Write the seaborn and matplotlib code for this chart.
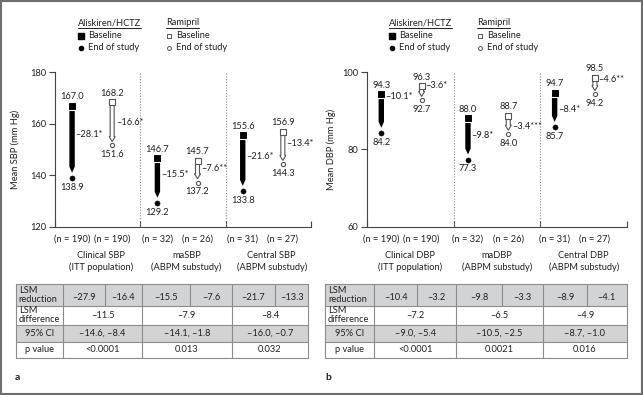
import numpy as np
import pandas as pd
import matplotlib
matplotlib.use("Agg")
import matplotlib.pyplot as plt
import matplotlib.transforms as mtrans
from matplotlib.patches import Rectangle, Polygon
import seaborn as sns

sns.set_theme(style="ticks")
plt.rcParams['font.family'] = ['Lato', 'DejaVu Sans']

# ---------------- data ----------------
sbp_groups = ["Clinical SBP", "maSBP", "Central SBP"]
dbp_groups = ["Clinical DBP", "maDBP", "Central DBP"]
subtitles = ["(ITT population)", "(ABPM substudy)", "(ABPM substudy)"]
n_ali = [190, 32, 31]
n_ram = [190, 26, 27]

sbp_ali_base = [167.0, 146.7, 155.6]
sbp_ali_end = [138.9, 129.2, 133.8]
sbp_ram_base = [168.2, 145.7, 156.9]
sbp_ram_end = [151.6, 137.2, 144.3]
sbp_ali_chg = ["\u201328.1*", "\u201315.5*", "\u201321.6*"]
sbp_ram_chg = ["\u201316.6*", "\u20137.6**", "\u201313.4*"]

dbp_ali_base = [94.3, 88.0, 94.7]
dbp_ali_end = [84.2, 77.3, 85.7]
dbp_ram_base = [96.3, 88.7, 98.5]
dbp_ram_end = [92.7, 84.0, 94.2]
dbp_ali_chg = ["\u201310.1*", "\u20139.8*", "\u20138.4*"]
dbp_ram_chg = ["\u20133.6*", "\u20133.4***", "\u20134.6**"]

sbp_yticks = [120, 140, 160, 180]
dbp_yticks = [60, 80, 100]

row_labels = ["LSM\nreduction", "LSM\ndifference", "95% CI", "p value"]
sbp_red_ali = ["\u201327.9", "\u201315.5", "\u201321.7"]
sbp_red_ram = ["\u201316.4", "\u20137.6", "\u201313.3"]
sbp_diff = ["\u201311.5", "\u20137.9", "\u20138.4"]
sbp_ci = ["\u201314.6, \u20138.4", "\u201314.1, \u20131.8", "\u201316.0, \u20130.7"]
sbp_p = ["<0.0001", "0.013", "0.032"]
dbp_red_ali = ["\u201310.4", "\u20139.8", "\u20138.9"]
dbp_red_ram = ["\u20133.2", "\u20133.3", "\u20134.1"]
dbp_diff = ["\u20137.2", "\u20136.5", "\u20134.9"]
dbp_ci = ["\u20139.0, \u20135.4", "\u201310.5, \u20132.5", "\u20138.7, \u20131.0"]
dbp_p = ["<0.0001", "0.0021", "0.016"]

# ---------------- style / layout ----------------
W, H = 643, 395
TXT = "#231f20"
GRAYLINE = "#555555"
FS = 6.7
# vertical pixel shift of the change labels above arrow midpoints (layout only)
sbp_shift_ali, sbp_shift_ram = [7, 6.5, 7], [1, 3.5, 4]
dbp_shift_ali, dbp_shift_ram = [17, 4, 0], [8, -2, 7]

fig = plt.figure(figsize=(W / 100, H / 100), dpi=100)
fig.patch.set_facecolor("white")

ov = fig.add_axes([0, 0, 1, 1], zorder=0)
ov.set_xlim(0, W)
ov.set_ylim(H, 0)
ov.axis("off")
ov.patch.set_alpha(0)


def px_text(x, y, s, **kw):
    kw.setdefault("fontsize", FS)
    kw.setdefault("color", TXT)
    return ov.text(x, y, s, **kw)


def panel(rect, ylim, yticks, ylabel, ylab_x, groups, ab, ae, rb, re_, ac, rc, sa, sr, offs, goff):
    l, t, r, b = rect
    ax = fig.add_axes([l / W, 1 - b / H, (r - l) / W, (b - t) / H], zorder=2)
    ax.patch.set_alpha(0)
    ax.set_xlim(0, 6)
    ax.set_ylim(*ylim)
    kx = (r - l) / 6.0
    ky = (b - t) / (ylim[1] - ylim[0])
    xa = [2 * i + offs[0] for i in range(3)]
    xr = [2 * i + offs[1] for i in range(3)]

    for xv in (2, 4):
        ax.axvline(xv, ls=(0, (1, 1.5)), color="#8a8a8a", lw=0.8, zorder=1)

    # Aliskiren filled arrows
    for x, bv, ev in zip(xa, ab, ae):
        hw = 2.7 / kx
        tip = ev + 5.5 / ky
        hs = tip + 6 / ky
        ax.add_patch(Polygon([(x - hw, bv), (x + hw, bv), (x + hw, hs), (x, tip), (x - hw, hs)],
                             closed=True, facecolor="black", edgecolor="none", zorder=3))
    # Ramipril outlined arrows
    for x, bv, ev in zip(xr, rb, re_):
        hw = 2.0 / kx
        hh = 3.0 / kx
        top = bv - 3.0 / ky
        tip = ev + 3.8 / ky
        hs = tip + 5.0 / ky
        ax.add_patch(Polygon([(x - hw, top), (x + hw, top), (x + hw, hs), (x + hh, hs), (x, tip),
                              (x - hh, hs), (x - hw, hs)],
                             closed=True, facecolor="white", edgecolor=GRAYLINE, lw=0.8, zorder=3))

    df_a = pd.DataFrame({"x": xa, "base": ab, "end": ae})
    df_r = pd.DataFrame({"x": xr, "base": rb, "end": re_})
    sns.scatterplot(data=df_a, x="x", y="base", marker="s", s=28, color="black",
                    edgecolor="white", linewidth=0.8, ax=ax, zorder=4, legend=False)
    sns.scatterplot(data=df_a, x="x", y="end", marker="o", s=14, color="black",
                    edgecolor="black", linewidth=0.3, ax=ax, zorder=4, legend=False)
    sns.scatterplot(data=df_r, x="x", y="base", marker="s", s=17, color="white",
                    edgecolor=GRAYLINE, linewidth=0.8, ax=ax, zorder=4, legend=False)
    sns.scatterplot(data=df_r, x="x", y="end", marker="o", s=9, color="white",
                    edgecolor=GRAYLINE, linewidth=0.8, ax=ax, zorder=4, legend=False)

    for xs, bs, es, cs, ss in ((xa, ab, ae, ac, sa), (xr, rb, re_, rc, sr)):
        for x, bv, ev, c, sh in zip(xs, bs, es, cs, ss):
            ax.annotate(f"{bv:.1f}", (x, bv), xytext=(0, 9), textcoords="offset pixels",
                        ha="center", va="center", fontsize=FS, color=TXT, annotation_clip=False)
            ax.annotate(f"{ev:.1f}", (x, ev), xytext=(0, -9), textcoords="offset pixels",
                        ha="center", va="center", fontsize=FS, color=TXT, annotation_clip=False)
            ax.annotate(c, (x, (bv + ev) / 2), xytext=(3.5, sh), textcoords="offset pixels",
                        ha="left", va="center", fontsize=FS, color=TXT, annotation_clip=False)

    ax.set_xlabel("")
    ax.set_ylabel(ylabel, fontsize=FS, color=TXT)
    ax.yaxis.set_label_coords(ylab_x, 0.5)
    ax.set_yticks(yticks)
    ax.set_xticks([0, 2, 4, 6])
    ax.set_xticklabels([])
    ax.tick_params(axis="y", direction="out", length=4, width=0.8, labelsize=FS,
                   colors="#444444", labelcolor=TXT, pad=2)
    ax.tick_params(axis="x", direction="in", length=4, width=0.8, colors="#444444")
    for s in ("top", "right"):
        ax.spines[s].set_visible(False)
    for s in ("left", "bottom"):
        ax.spines[s].set_color("#444444")
        ax.spines[s].set_linewidth(0.8)

    trans = mtrans.blended_transform_factory(ax.transData, ov.transData)
    for i in range(3):
        ax.text(xa[i], 239, f"(n = {n_ali[i]})", transform=trans, ha="center", va="center",
                fontsize=FS, color=TXT)
        ax.text(xr[i], 239, f"(n = {n_ram[i]})", transform=trans, ha="center", va="center",
                fontsize=FS, color=TXT)
        gx = 2 * i + goff
        ax.text(gx, 255, groups[i], transform=trans, ha="center", va="center",
                fontsize=FS, color=TXT)
        ax.text(gx, 267, subtitles[i], transform=trans, ha="center", va="center",
                fontsize=FS, color=TXT)
    return ax


axa = panel((55, 72, 311, 227), (120, 180), sbp_yticks, "Mean SBP (mm Hg)", -0.135, sbp_groups,
            sbp_ali_base, sbp_ali_end, sbp_ram_base, sbp_ram_end, sbp_ali_chg, sbp_ram_chg,
            sbp_shift_ali, sbp_shift_ram, (0.4, 1.34), 1.08)
axb = panel((367, 72, 627, 227), (60, 100), dbp_yticks, "Mean DBP (mm Hg)", -0.12, dbp_groups,
            dbp_ali_base, dbp_ali_end, dbp_ram_base, dbp_ram_end, dbp_ali_chg, dbp_ram_chg,
            dbp_shift_ali, dbp_shift_ram, (0.33, 1.26), 1.0)


# ---------------- legends ----------------
def legend(x_ali, x_ram):
    ta = px_text(x_ali, 22.5, "Aliskiren/HCTZ", ha="left", va="center")
    tr = px_text(x_ram, 22.5, "Ramipril", ha="left", va="center")
    ov.scatter([x_ali + 2.5], [36], marker="s", s=14, color="black", zorder=3)
    ov.scatter([x_ali + 2.5], [48], marker="o", s=9, color="black", zorder=3)
    ov.scatter([x_ram + 2.5], [36], marker="s", s=12, facecolor="white", edgecolor=GRAYLINE,
               lw=0.7, zorder=3)
    ov.scatter([x_ram + 2.5], [48], marker="o", s=8, facecolor="white", edgecolor=GRAYLINE,
               lw=0.7, zorder=3)
    px_text(x_ali + 10, 36, "Baseline", ha="left", va="center")
    px_text(x_ali + 10, 48, "End of study", ha="left", va="center")
    px_text(x_ram + 10, 36, "Baseline", ha="left", va="center")
    px_text(x_ram + 10, 48, "End of study", ha="left", va="center")
    return ta, tr


leg_texts = list(legend(78, 166)) + list(legend(389, 477))
fig.canvas.draw()
inv = ov.transData.inverted()
for t in leg_texts:
    bb = t.get_window_extent()
    (x0, _), (x1, _) = inv.transform([[bb.x0, bb.y0], [bb.x1, bb.y1]])
    ov.plot([x0, x1], [28, 28], color=TXT, lw=0.7)


# ---------------- tables ----------------
def table(xe, red_a, red_r, diff, ci, p):
    ys = [284, 305.5, 325, 341.7, 358]
    L, R = xe[0], xe[-1]
    for k in (0, 2):
        ov.add_patch(Rectangle((L, ys[k]), R - L, ys[k + 1] - ys[k], facecolor="#d2d3d5",
                               edgecolor="none", zorder=1))
    lc = "#8c8c8c"
    for y in ys:
        ov.plot([L, R], [y, y], color=lc, lw=0.8, zorder=2)
    for x in (xe[0], xe[1], xe[3], xe[5], xe[7]):
        ov.plot([x, x], [ys[0], ys[-1]], color=lc, lw=0.8, zorder=2)
    for x in (xe[2], xe[4], xe[6]):
        ov.plot([x, x], [ys[0], ys[1]], color=lc, lw=0.8, zorder=2)
    px_text(L + 3, (ys[0] + ys[1]) / 2, row_labels[0], ha="left", va="center", linespacing=0.95)
    px_text(L + 3, (ys[1] + ys[2]) / 2, row_labels[1], ha="left", va="center", linespacing=0.95)
    cc = (xe[0] + xe[1]) / 2
    px_text(cc, (ys[2] + ys[3]) / 2, row_labels[2], ha="center", va="center")
    px_text(cc, (ys[3] + ys[4]) / 2, row_labels[3], ha="center", va="center")
    for i in range(3):
        a0, s, a1 = xe[1 + 2 * i], xe[2 + 2 * i], xe[3 + 2 * i]
        px_text((a0 + s) / 2, 298, red_a[i], ha="center", va="center")
        px_text((s + a1) / 2, 298, red_r[i], ha="center", va="center")
        gc = (a0 + a1) / 2
        px_text(gc, (ys[1] + ys[2]) / 2, diff[i], ha="center", va="center")
        px_text(gc, (ys[2] + ys[3]) / 2, ci[i], ha="center", va="center")
        px_text(gc, (ys[3] + ys[4]) / 2, p[i], ha="center", va="center")


table([15.7, 63.3, 105, 141.7, 190, 231.7, 275, 308],
      sbp_red_ali, sbp_red_ram, sbp_diff, sbp_ci, sbp_p)
table([325, 374.3, 416.7, 456, 501.7, 543.3, 586.7, 626.7],
      dbp_red_ali, dbp_red_ram, dbp_diff, dbp_ci, dbp_p)

px_text(15, 377, "a", ha="left", va="center", fontweight="bold", fontsize=7.5)
px_text(325, 377, "b", ha="left", va="center", fontweight="bold", fontsize=7.5)

ov.add_patch(Rectangle((0.8, 0.8), W - 2.2, H - 2.2, fill=False, edgecolor="#6d6d6d", lw=1.5,
                       zorder=5))

fig.savefig("out.png", dpi=100, facecolor="white")
